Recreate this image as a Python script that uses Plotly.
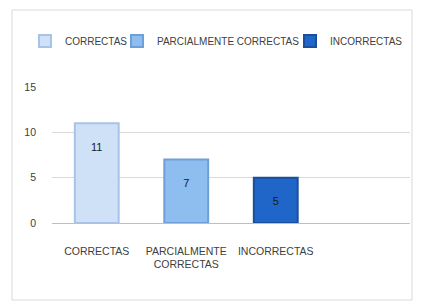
import plotly.graph_objects as go

categories = ["CORRECTAS", "PARCIALMENTE<br>CORRECTAS", "INCORRECTAS"]
series_names = ["CORRECTAS", "PARCIALMENTE CORRECTAS", "INCORRECTAS"]
values = [11, 7, 5]
fill_colors = ["#cfe1f7", "#8ebdf0", "#1f66c8"]
line_colors = ["#a8c3e6", "#6d9fd9", "#194f9c"]
y_ticks = [0, 5, 10, 15]

# page is offset by the browser's 8px body margin
OFF = 8
W, H = 422 - OFF, 302 - OFF
L, R = 52 - OFF, 12
T, B = 87 - OFF, H - (223 - OFF)
pw, ph = W - L - R, H - T - B

legend_ids = ["legend", "legend2", "legend3"]
legend_x = [25, 117, 290]  # page x of legend boxes

fig = go.Figure()
for i, name in enumerate(series_names):
    fig.add_trace(go.Bar(
        x=[categories[i]], y=[values[i]], name=name,
        width=0.49, legend=legend_ids[i],
        marker=dict(color=fill_colors[i], line=dict(color=line_colors[i], width=2)),
        text=["&nbsp;<br>" + str(values[i])], textposition="inside", insidetextanchor="end",
        textfont=dict(family="Liberation Sans", size=11, color="#1a1a1a"),
        textangle=0,
    ))

leg_common = dict(orientation="h", xref="container", yref="container", xanchor="left",
                  yanchor="middle", y=1 - (41 - OFF) / H,
                  font=dict(family="Liberation Sans", size=10, color="#404040"),
                  bgcolor="rgba(0,0,0,0)", itemwidth=30)

fig.update_layout(
    width=W, height=H,
    margin=dict(l=L, r=R, t=T, b=B, pad=0, autoexpand=False),
    paper_bgcolor="white", plot_bgcolor="white",
    barmode="overlay",
    showlegend=True,
    legend=dict(x=(legend_x[0] - OFF) / W, **leg_common),
    legend2=dict(x=(legend_x[1] - OFF) / W, **leg_common),
    legend3=dict(x=(legend_x[2] - OFF) / W, **leg_common),
    font=dict(family="Liberation Sans", size=11, color="#595959"),
    xaxis=dict(type="category", categoryorder="array", categoryarray=categories,
               range=[-0.5, 3.5], showgrid=False, zeroline=False,
               showline=False, ticks="", ticklabelstandoff=20,
               tickfont=dict(size=10.5, color="#404040")),
    yaxis=dict(range=[0, 15], tickvals=y_ticks, showgrid=True, gridcolor="#d9d9d9",
               gridwidth=1, zeroline=True, zerolinecolor="#bfbfbf", zerolinewidth=1,
               showline=False, ticks="", ticklabelstandoff=15,
               tickfont=dict(size=10.5, color="#404040")),
    shapes=[dict(type="rect", xref="paper", yref="paper",
                 x0=(12 - 52) / pw, x1=(412 - 52) / pw,
                 y0=(223 - 300) / ph, y1=(223 - 10) / ph,
                 line=dict(color="#d9d9d9", width=1), fillcolor="rgba(0,0,0,0)", layer="below")],
)

fig.write_html("out.html")
